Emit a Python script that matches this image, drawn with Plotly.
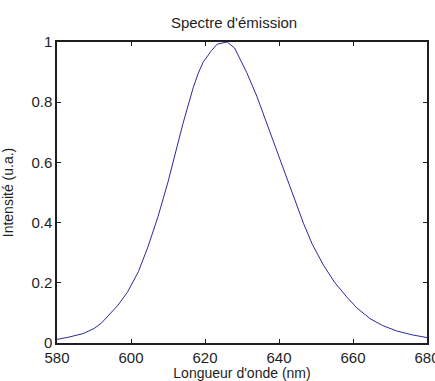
import plotly.graph_objects as go

wavelength_nm = [580, 583, 587, 590, 592, 594, 596.5, 599, 602, 604.6, 607.3, 610, 612, 614,
                 616.8, 618.2, 619.5, 621.8, 623.3, 624.5, 626, 628, 629.5, 631.3, 634, 637.6, 640.3,
                 643, 646.6, 649, 652, 655, 658.3, 661, 664.6, 668, 671.8, 676, 680]
intensity = [0.012, 0.019, 0.031, 0.048, 0.066, 0.092, 0.126, 0.168, 0.237, 0.32, 0.42, 0.535, 0.63, 0.727,
             0.848, 0.897, 0.933, 0.972, 0.993, 0.995, 1.0, 0.98, 0.945, 0.898, 0.82, 0.698, 0.609,
             0.516, 0.398, 0.328, 0.259, 0.202, 0.153, 0.117, 0.081, 0.058, 0.04, 0.027, 0.018]

x_ticks = [580, 600, 620, 640, 660, 680]
y_ticks = [0, 0.2, 0.4, 0.6, 0.8, 1]
y_tick_labels = ["0", "0.2", "0.4", "0.6", "0.8", "1"]

FONT = "Liberation Sans"
INK = "#1e1e1e"

fig = go.Figure()
fig.add_trace(go.Scatter(x=wavelength_nm, y=intensity, mode="lines",
                         line=dict(color="#2a2aa0", width=1), cliponaxis=True))

axis_common = dict(showgrid=False, zeroline=False, showline=True, linecolor=INK, linewidth=1.5,
                   mirror="ticks", ticks="inside", ticklen=4, tickcolor=INK, tickwidth=1,
                   automargin=False, ticklabeloverflow="allow",
                   tickfont=dict(family=FONT, size=15, color=INK))

fig.update_layout(
    width=435, height=381,
    margin=dict(l=57, r=8, t=42, b=38, autoexpand=False),
    paper_bgcolor="white", plot_bgcolor="white",
    showlegend=False,
    title=dict(text="Spectre d'émission", x=0.538, xanchor="center", xref="container",
               y=0.94, yanchor="middle", yref="container",
               font=dict(family=FONT, size=15, color=INK)),
    xaxis=dict(range=[580, 680], tickvals=x_ticks, ticktext=[str(v) for v in x_ticks],
               ticklabelstandoff=0,
               title=dict(text="Longueur d'onde (nm)", standoff=1,
                          font=dict(family=FONT, size=14, color=INK)),
               **axis_common),
    yaxis=dict(range=[0, 1], tickvals=y_ticks, ticktext=y_tick_labels,
               title=dict(text="Intensité (u.a.)", standoff=14,
                          font=dict(family=FONT, size=14, color=INK)),
               **axis_common),
)

fig.write_html("out.html", config={"displayModeBar": False},
               post_script="document.body.style.margin='0';document.body.style.overflow='hidden';")
